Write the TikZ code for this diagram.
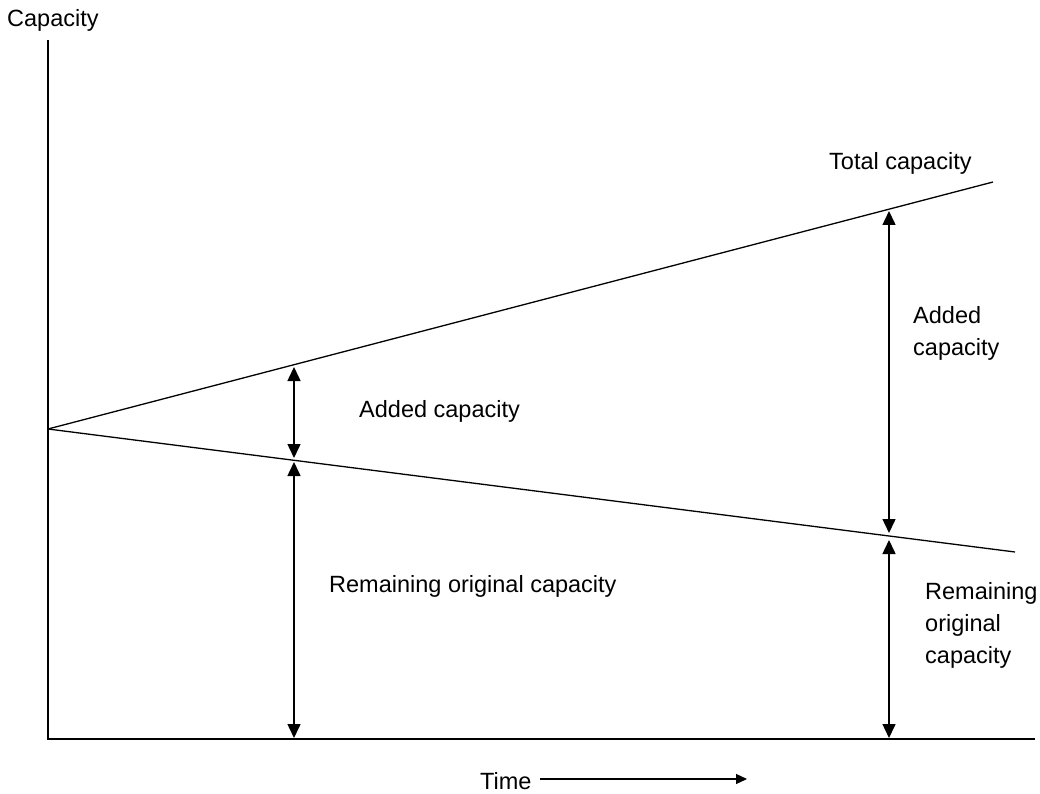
\documentclass[tikz,border=0pt]{standalone}
\usepackage{fontspec}
\setmainfont{Liberation Sans}
\usetikzlibrary{arrows.meta}
\begin{document}
\begin{tikzpicture}[x=1pt,y=-1pt,
  every node/.style={font=\fontsize{23.5}{32}\selectfont, inner sep=0pt},
  axisline/.style={line width=1.3pt},
  capline/.style={line width=1.3pt},
  dimarrow/.style={line width=1.5pt, {Triangle[length=14pt,width=13pt]}-{Triangle[length=14pt,width=13pt]}},
  timearrow/.style={line width=1.2pt, -{Triangle[length=11pt,width=10pt]}}]
\useasboundingbox (0,0) rectangle (1040,794);
% axes
\coordinate (ytop) at (48,40);
\coordinate (orig) at (48,739);
\coordinate (xend) at (1035,739);
\draw[axisline] (ytop) -- (orig) -- (xend);
% capacity lines
\coordinate (start) at (48,429);
\coordinate (totend) at (993,182);
\coordinate (remend) at (1015,552);
\draw[capline] (start) -- (totend);
\draw[capline] (start) -- (remend);
% arrows left
\coordinate (lt) at (294,367);
\coordinate (lm1) at (294,458);
\coordinate (lm2) at (294,462);
\coordinate (lb) at (294,738);
\draw[dimarrow] (lt) -- (lm1);
\draw[dimarrow] (lm2) -- (lb);
% arrows right
\coordinate (rt) at (889,211);
\coordinate (rm1) at (889,533);
\coordinate (rm2) at (889,540);
\coordinate (rb) at (889,738);
\draw[dimarrow] (rt) -- (rm1);
\draw[dimarrow] (rm2) -- (rb);
% labels
\node[anchor=west] (ycap) at (7,20) {Capacity};
\node[anchor=west] (tot) at (829,163) {Total capacity};
\node[anchor=west] (addl) at (359,411) {Added capacity};
\node[anchor=west] (reml) at (329,586) {Remaining original capacity};
\node[anchor=north west, align=left] (addr) at (913,306) {Added\\capacity};
\node[anchor=north west, align=left] (remr) at (925,582) {Remaining\\original\\capacity};
\node[anchor=west] (time) at (480,781) {Time};
\coordinate (tstart) at (540,779);
\coordinate (tarrow) at (747,779);
\draw[timearrow] (tstart) -- (tarrow);
\end{tikzpicture}
\end{document}
